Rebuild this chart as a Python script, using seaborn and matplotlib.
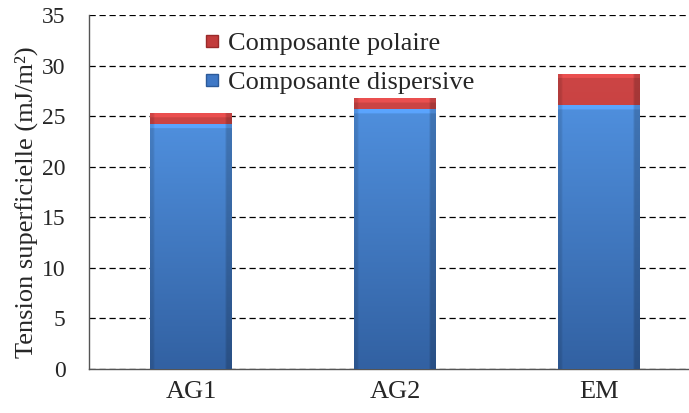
import numpy as np
import pandas as pd
import matplotlib
matplotlib.use("Agg")
import matplotlib.pyplot as plt
from matplotlib.colors import LinearSegmentedColormap
from matplotlib.lines import Line2D
import seaborn as sns

# Surface tension components per sample (mJ/m²)
samples = ["AG1", "AG2", "EM"]
dispersive = [24.2, 25.7, 26.1]
polaire = [1.1, 1.05, 3.1]
yticks = [0, 5, 10, 15, 20, 25, 30, 35]

totals = [d + p for d, p in zip(dispersive, polaire)]
df = pd.DataFrame({"Echantillon": samples, "dispersive": dispersive, "total": totals})

sns.set_theme(style="white")
plt.rcParams["font.family"] = ["Liberation Serif", "DejaVu Serif"]

fig = plt.figure(figsize=(6.89, 4.13), dpi=100)
ax = fig.add_axes([89 / 689, 1 - 369 / 413, (701 - 89) / 689, (369 - 15) / 413])

blue_top, blue_bot = "#4f8fdd", "#3261a2"
red_top, red_bot = "#cc4545", "#b33535"

sns.barplot(data=df, x="Echantillon", y="total", color=red_bot, width=0.40,
            saturation=1, ax=ax, zorder=2, linewidth=0)
sns.barplot(data=df, x="Echantillon", y="dispersive", color=blue_bot, width=0.40,
            saturation=1, ax=ax, zorder=3, linewidth=0)


def shade(patch, c_top, c_bot, z):
    """Fill a bar with a vertical gradient plus a light bevel at its top."""
    x0, y0 = patch.get_x(), patch.get_y()
    w, h = patch.get_width(), patch.get_height()
    n = 300
    t = np.linspace(0, 1, n)
    cmap = LinearSegmentedColormap.from_list("g", [c_bot, c_top])
    band = 0.4 / max(h, 0.5)
    img = cmap(t)[:, None, :]
    img = np.repeat(img, 40, axis=1)
    top = t > 1 - band
    img[top, :, :3] = np.clip(img[top, :, :3] * 1.15, 0, 1)
    # slightly darker sides
    side = np.ones(40)
    side[:2] = 0.88
    side[-3:] = 0.82
    img[..., :3] *= side[None, :, None]
    im = ax.imshow(img, origin="lower", extent=[x0, x0 + w, y0, y0 + h],
                   aspect="auto", zorder=z, interpolation="bilinear")
    im.set_clip_path(patch)


n = len(samples)
red_patches = ax.patches[:n]
blue_patches = ax.patches[n:2 * n]
for p in red_patches:
    shade(p, red_top, red_bot, 2.5)
for p in blue_patches:
    shade(p, blue_top, blue_bot, 3.5)

ax.set_xlim(-0.5, n - 0.5)
ax.set_ylim(0, 35)
ax.set_yticks(yticks)
ax.set_yticklabels([str(v) for v in yticks], fontsize=17)
ax.yaxis.grid(True, linestyle=(0, (5, 3)), color="black", linewidth=0.9, zorder=1)
ax.set_axisbelow(True)

ax.set_xticks(range(n))
ax.set_xticklabels(samples, fontsize=19)
ax.set_xticks([i + 0.5 for i in range(n - 1)], minor=True)
ax.tick_params(axis="x", which="major", length=0, pad=9)
ax.tick_params(axis="x", which="minor", length=5, width=0.9, color="#333333", direction="out")
ax.tick_params(axis="y", length=8, width=0.9, color="#333333", direction="out", pad=9)

ax.set_xlabel("")
ax.set_ylabel("Tension superficielle (mJ/m²)", fontsize=19)
ax.yaxis.set_label_coords(-0.083, 0.47)

for s in ["top", "right"]:
    ax.spines[s].set_visible(False)
for s in ["left", "bottom"]:
    ax.spines[s].set_color("#555555")
    ax.spines[s].set_linewidth(1.0)

handles = [
    Line2D([], [], marker="s", linestyle="none", markersize=9,
           markerfacecolor="#c23c3c", markeredgecolor="#9a2a2a"),
    Line2D([], [], marker="s", linestyle="none", markersize=9,
           markerfacecolor="#3f78c6", markeredgecolor="#2c5a99"),
]
leg = ax.legend(handles, ["Composante polaire", "Composante dispersive"],
                loc="upper left", bbox_to_anchor=(0.16, 0.997), frameon=False,
                fontsize=19, handlelength=0.7, handletextpad=0.25,
                labelspacing=0.58, borderaxespad=0.2)
leg.set_zorder(5)

fig.savefig("out.png", dpi=100)
